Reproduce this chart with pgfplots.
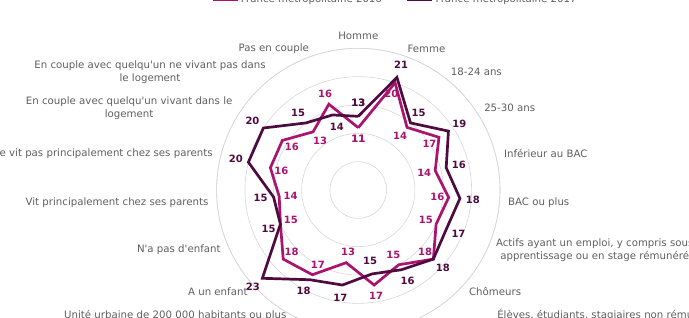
\documentclass[border=0pt]{standalone}
\usepackage{fontspec}
\setmainfont{DejaVu Sans}[Ligatures=TeXOff]
\usepackage{pgfplots}
\pgfplotsset{compat=1.18}
\usepackage{pgfplotstable}
\usepgfplotslibrary{polar}
\definecolor{mag}{HTML}{AA136E}
\definecolor{dark}{HTML}{4F0B40}
\definecolor{lab}{RGB}{95,95,95}
\definecolor{grd}{RGB}{215,215,215}
% a = angle of the spoke, m = 2016, d = 2017, sm/sd = label side (+1 outside, -1 inside)
\pgfplotstableread{
a        m   d   sm  sd
90       11  13  -1  1
71.0526  20  21  -1  1
52.1053  14  15  -1  1
33.1579  17  19  -1  1
14.2105  14  16  -1  1
355.2632 16  18  -1  1
336.3158 15  17  -1  1
317.3684 18  18  -1  1
298.4211 15  16  -1  1
279.4737 17  15   1 -1
260.5263 13  17  -1  1
241.5789 17  18  -1  1
222.6316 18  23  -1  1
203.6842 15  15  -1  1
184.7368 14  15  -1  1
165.7895 16  20  -1  1
146.8421 16  20  -1  1
127.8947 13  15  -1  1
108.9474 16  14   1 -1
90       11  13  -1  1
}\data
\pgfplotsset{
  catlab/.style={draw=none, mark=none, forget plot, nodes near coords, point meta=explicit symbolic,
    every node near coord/.append style={anchor=#1, font=\fontsize{10.2}{13}\selectfont, text=lab, align=center, inner sep=0.5pt}},
}
\begin{document}
\begin{tikzpicture}
\useasboundingbox (-358.3pt,-127pt) rectangle (330.7pt,190pt);
\clip (-358.3pt,-127pt) rectangle (330.7pt,190pt);
\begin{polaraxis}[
  at={(0pt,0pt)}, anchor=center, clip=false,
  scale only axis, width=283.4pt, height=283.4pt,
  ymin=0, ymax=25, xmin=0, xmax=360,
  ytick={5,10,15,20,25}, yticklabels={},
  ymajorgrids=true, xmajorgrids=false,
  major grid style={grd, line width=0.6pt},
  x axis line style={grd, line width=0.6pt},
  y axis line style={draw=none},
  major tick length=0pt,
  /pgf/number format/assume math mode=true,
  xtick={90,71.0526,52.1053,33.1579,14.2105,355.2632,336.3158,317.3684,298.4211,279.4737,260.5263,241.5789,222.6316,203.6842,184.7368,165.7895,146.8421,127.8947,108.9474},
  xticklabels={},
  legend style={draw=none, fill=none, at={(axis cs:79.10,34.23)}, anchor=center,
    legend columns=2, font=\fontsize{10.2}{13}\selectfont, text=lab,
    /tikz/every even column/.append style={column sep=22pt}},
  legend image code/.code={\draw[#1, line width=2.7pt] (0pt,0pt) -- (25pt,0pt);},
]
\addplot[mag, line width=2.7pt, mark=none, line join=miter] table[x=a, y=m] {\data};
\addlegendentry{France métropolitaine 2016}
\addplot[dark, line width=2.7pt, mark=none, line join=miter] table[x=a, y=d] {\data};
\addlegendentry{France métropolitaine 2017}
\addplot[draw=none, mark=none, forget plot, nodes near coords, point meta=explicit,
  every node near coord/.append style={anchor=center, font=\fontsize{10}{12}\selectfont\bfseries, text=mag}]
  table[x=a, y expr=\thisrow{m}+2.0*\thisrow{sm}, meta=m] {\data};
\addplot[draw=none, mark=none, forget plot, nodes near coords, point meta=explicit,
  every node near coord/.append style={anchor=center, font=\fontsize{10}{12}\selectfont\bfseries, text=dark}]
  table[x=a, y expr=\thisrow{d}+2.3*\thisrow{sd}, meta=d] {\data};
% category labels
\addplot[catlab=south] coordinates {(90,26.4) [Homme]};
\addplot[catlab=west] coordinates {
  (71.0526,26.4) [Femme]
  (52.1053,26.4) [18-24 ans]
  (33.1579,26.4) [25-30 ans]
  (14.2105,26.4) [Inférieur au BAC]
  (355.2632,26.4) [BAC ou plus]
  (336.3158,26.4) [{Actifs ayant un emploi, y compris sous\\apprentissage ou en stage rémunéré}]
  (317.3684,26.4) [Chômeurs]
  (298.4211,26.4) [{Élèves, étudiants, stagiaires non rémunéré,\\retraités, hommes ou femmes au foyer ou autres personnes inactives}]
};
\addplot[catlab=north] coordinates {
  (279.4737,26.4) [Commune rurale]
  (260.5263,26.4) [{Unité urbaine de moins de\\200 000 habitants}]
};
\addplot[catlab=east] coordinates {
  (241.5789,26.4) [{Unité urbaine de 200 000 habitants ou plus\\(hors agglomération parisienne)}]
  (222.6316,26.4) [A un enfant]
  (203.6842,26.4) [N'a pas d'enfant]
  (184.7368,26.4) [Vit principalement chez ses parents]
  (165.7895,26.4) [Ne vit pas principalement chez ses parents]
  (146.8421,26.4) [{En couple avec quelqu'un vivant dans le\\logement}]
  (127.8947,26.4) [{En couple avec quelqu'un ne vivant pas dans\\le logement}]
  (108.9474,26.4) [Pas en couple]
};
\end{polaraxis}
\end{tikzpicture}
\end{document}
